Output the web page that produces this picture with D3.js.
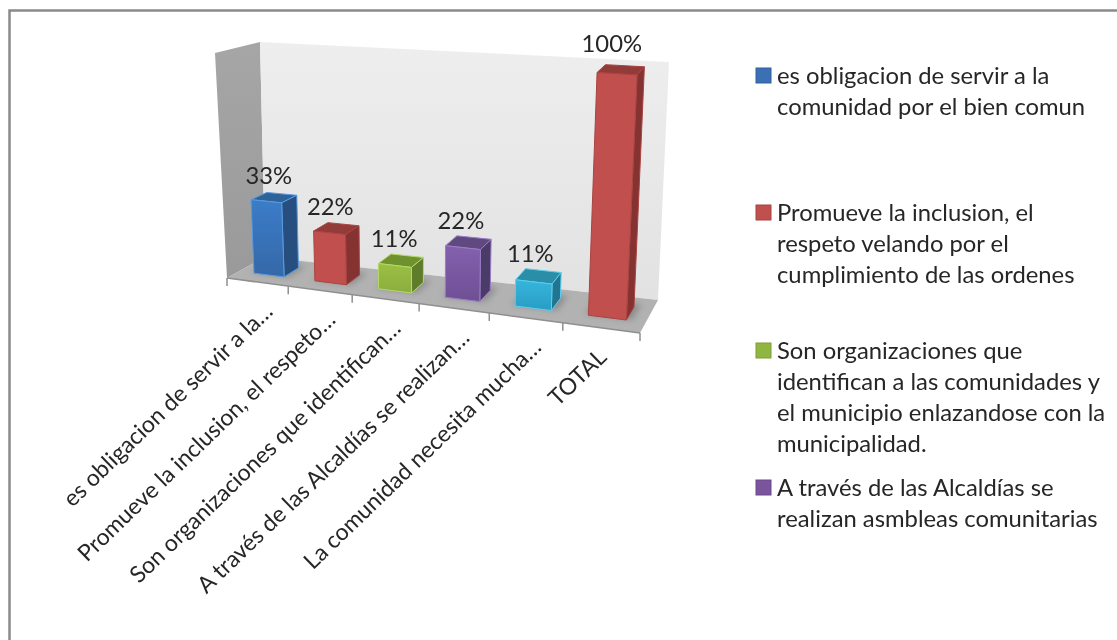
<!DOCTYPE html>
<html><head><meta charset="utf-8">
<script src="https://cdnjs.cloudflare.com/ajax/libs/d3/7.8.5/d3.min.js"></script>
<style>html,body{margin:0;padding:0;background:#fff}svg{display:block}text{font-family:Lato,"Open Sans",sans-serif;fill:#262626}</style>
</head><body><svg id="c" width="1117" height="640"></svg>
<script>
const categories = ["es obligacion de servir a la…","Promueve la inclusion, el respeto…","Son organizaciones que identifican…","A través de las Alcaldías se realizan…","La comunidad necesita mucha…","TOTAL"];
const values = [33,22,11,22,11,100];
const valueLabels = ["33%","22%","11%","22%","11%","100%"];
const fronts = ["#3b7cc8","#c0504d","#9bc044","#8460ae","#35b6dc","#c0504d"];
const frontsDark = ["#3568a8","#c0504d","#8aad3e","#6e4f94","#2a9cc4","#c0504d"];
const sides = ["#25507f","#853230","#5f7b2c","#4c3a68","#217590","#853230"];
const tops = ["#2f6399","#923a37","#70922f","#5f4a80","#2a8ea9","#923a37"];
const edges = ["#5a9ae0","#a94441","#b4d868","#9a7cc4","#5ccdec","#a94441"];
const legendItems = [
 ["es obligacion de servir a la","comunidad por el bien comun"],
 ["Promueve la inclusion, el","respeto velando por el","cumplimiento de las ordenes"],
 ["Son organizaciones que","identifican a las comunidades y","el municipio enlazandose con la","municipalidad."],
 ["A través de las Alcaldías se","realizan asmbleas comunitarias"]
];
const legendColors = ["#3b6fb5","#c0504d","#8fb63f","#7a559e"];
const legendTops = [76,213,351,488];

const svg = d3.select("#c");
const defs = svg.append("defs");
const lg = (id,a,b,x2,y2)=>{const g=defs.append("linearGradient").attr("id",id).attr("x1",0).attr("y1",0).attr("x2",x2).attr("y2",y2);g.append("stop").attr("offset",0).attr("stop-color",a);g.append("stop").attr("offset",1).attr("stop-color",b);};
lg("wallG","#eeeeee","#e2e2e2",0,1);
lg("sideG","#a6a6a6","#9a9a9a",0,1);
values.forEach((v,i)=>lg("f"+i,fronts[i],frontsDark[i],0,1));
defs.append("filter").attr("id","sh").attr("x","-30%").attr("y","-30%").attr("width","160%").attr("height","160%").append("feGaussianBlur").attr("stdDeviation",3);
defs.append("filter").attr("id","soft").append("feGaussianBlur").attr("stdDeviation",0.35);

// Projection built from scales: category axis, value axis, depth axis
const u = d3.scaleBand().domain(d3.range(categories.length)).range([0,1]).padding(0.5).paddingOuter(0.25);
const uTick = d3.scaleLinear().domain([0,categories.length]).range([0,1]);
const vScale = d3.scaleLinear().domain([0,100]).range([0,1]);
const k = 0.87;
const persp = t => t*k/(1+t*(k-1));
const lerp = (a,b,t)=>[a[0]+(b[0]-a[0])*t,a[1]+(b[1]-a[1])*t];
const FL=[227,278],FR=[640,333],BL=[265,257],BR=[658,300],FLT=[215,53],FRT=[652,83],BLT=[260,42],BRT=[669,62];
function P(t,d,v){
  const s=persp(t);
  const base=lerp(lerp(FL,FR,s),lerp(BL,BR,s),d);
  const top=lerp(lerp(FLT,FRT,s),lerp(BLT,BRT,s),d);
  return lerp(base,top,v);
}
const line=d3.line().curve(d3.curveLinearClosed);
const root=svg.append("g").attr("filter","url(#soft)");

// Frame
root.append("path").attr("d",d3.line()([[9.5,640],[9.5,10.5],[1117,10.5]])).attr("fill","none").attr("stroke","#8a8a8a").attr("stroke-width",2.5);

// Walls and floor
root.append("path").attr("d",line([P(0,0,0),P(0,0,1),P(0,1,1),P(0,1,0)])).attr("fill","url(#sideG)");
root.append("path").attr("d",line([P(0,1,0),P(0,1,1),P(1,1,1),P(1,1,0)])).attr("fill","url(#wallG)");
root.append("path").attr("d",line([P(0,0,0),P(0,1,0),P(1,1,0),P(1,0,0)])).attr("fill","#b2b2b2");

// Axis ticks and line
root.append("path").attr("d",d3.line()([P(0,0,0),P(1,0,0)])).attr("stroke","#8f8f8f").attr("stroke-width",1.5).attr("fill","none");
root.selectAll(".tick").data(d3.range(categories.length+1)).join("path").attr("class","tick")
 .attr("d",i=>{const p=P(uTick(i),0,0);return d3.line()([p,[p[0],p[1]+8]]);}).attr("stroke","#8f8f8f").attr("stroke-width",1.5);

const dF=0.32,dB=0.72;
const bars=root.selectAll(".bar").data(values).join("g").attr("class","bar");
const corners=i=>{const a=u(i),b=a+u.bandwidth();return {a,b};};
bars.append("path").attr("filter","url(#sh)").attr("fill","#6e6e6e").attr("opacity",0.55)
 .attr("d",(v,i)=>{const {a,b}=corners(i);return line([P(a-0.008,dF+0.02,0),P(b+0.012,dF+0.02,0),P(b+0.012,dB+0.1,0),P(a-0.008,dB+0.1,0)]);});
bars.append("path").attr("fill",(v,i)=>tops[i]).attr("stroke",(v,i)=>edges[i]).attr("stroke-width",1).attr("stroke-linejoin","round")
 .attr("d",(v,i)=>{const {a,b}=corners(i),h=vScale(v);return line([P(a,dF,h),P(b,dF,h),P(b,dB,h),P(a,dB,h)]);});
bars.append("path").attr("fill",(v,i)=>sides[i]).attr("stroke",(v,i)=>edges[i]).attr("stroke-width",1).attr("stroke-linejoin","round")
 .attr("d",(v,i)=>{const {b}=corners(i),h=vScale(v);return line([P(b,dF,0),P(b,dF,h),P(b,dB,h),P(b,dB,0)]);});
bars.append("path").attr("fill",(v,i)=>`url(#f${i})`).attr("stroke",(v,i)=>edges[i]).attr("stroke-width",1).attr("stroke-linejoin","round")
 .attr("d",(v,i)=>{const {a,b}=corners(i),h=vScale(v);return line([P(a,dF,0),P(b,dF,0),P(b,dF,h),P(a,dF,h)]);});

// Data labels
root.selectAll(".dl").data(values).join("text").attr("class","dl").attr("text-anchor","middle").attr("font-size",23.8)
 .attr("x",(v,i)=>{const {a,b}=corners(i);return P((a+b)/2,dB,vScale(v))[0]-13;})
 .attr("y",(v,i)=>{const {a,b}=corners(i),h=vScale(v);return P((a+b)/2,dB,h)[1]-7.5-6.5*h;})
 .text((v,i)=>valueLabels[i]);

// Category labels
root.selectAll(".cl").data(categories).join("text").attr("class","cl").attr("text-anchor","end").attr("font-size",23)
 .attr("transform",(c,i)=>{const p=P(uTick(i+0.5),0,0);const nudge=i===categories.length-1?-10:0;return `translate(${p[0]+17+nudge},${p[1]+31}) rotate(-44)`;})
 .text(c=>c);

// Legend
const leg=root.selectAll(".lg").data(legendItems).join("g").attr("class","lg");
leg.append("rect").attr("x",756).attr("y",(d,i)=>legendTops[i]-8).attr("width",15).attr("height",15)
 .attr("fill",(d,i)=>legendColors[i]).attr("stroke",(d,i)=>d3.color(legendColors[i]).darker(0.4)).attr("stroke-width",1);
leg.each(function(d,i){
  d3.select(this).selectAll("text").data(d).join("text").attr("x",777).attr("font-size",23.8)
   .attr("y",(t,j)=>legendTops[i]+8+j*31).text(t=>t);
});
</script></body></html>
